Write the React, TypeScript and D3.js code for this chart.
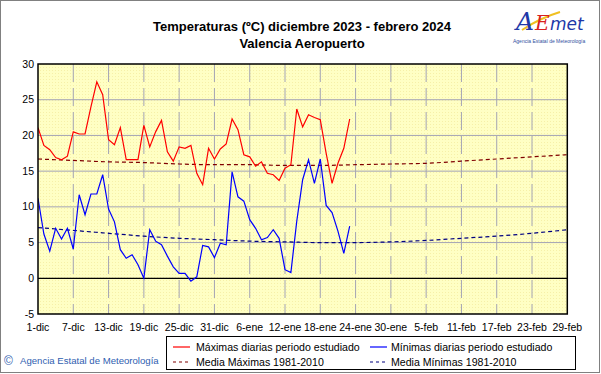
import React from 'react';
import * as d3 from 'd3';

// daily values from 1-dic-2023 (day 0) to 23-ene-2024
const maximas = [
  21.1, 18.6, 18.0, 16.9, 16.6, 17.1, 20.5, 20.2, 20.2, 24.0,
  27.5, 25.7, 19.4, 18.7, 21.1, 16.6, 16.6, 16.6, 21.4, 18.4,
  20.5, 22.1, 17.7, 16.4, 18.4, 18.2, 18.6, 14.7, 13.1, 18.2,
  16.7, 18.1, 18.8, 22.3, 20.8, 17.3, 17.0, 15.7, 16.3, 14.7,
  14.5, 13.7, 15.4, 15.9, 23.7, 21.2, 22.9, 22.5, 22.2, 17.5,
  13.3, 16.1, 18.2, 22.3,
];
const minimas = [
  11.2, 6.2, 3.8, 7.0, 5.5, 7.0, 4.1, 11.7, 8.9, 11.8,
  11.8, 14.5, 9.7, 7.9, 4.0, 2.8, 3.3, 1.9, 0.0, 6.8,
  5.2, 4.7, 3.1, 1.6, 0.7, 0.7, -0.4, 0.2, 4.6, 4.4,
  2.9, 4.9, 4.7, 14.9, 11.4, 10.8, 8.2, 7.0, 5.4, 5.7,
  6.8, 5.6, 1.2, 0.8, 8.0, 13.8, 16.6, 13.3, 16.7, 10.2,
  9.2, 6.6, 3.5, 7.3,
];

// 1981-2010 normals, sampled every 6 days
const mediaDias = [0, 6, 12, 18, 24, 30, 36, 42, 48, 54, 60, 66, 72, 78, 84, 90];
const mediaMaximas = [16.7, 16.5, 16.3, 16.2, 16.0, 15.9, 15.9, 15.8, 15.8, 15.9, 16.0, 16.1, 16.4, 16.7, 17.0, 17.3];
const mediaMinimas = [7.1, 6.7, 6.3, 5.9, 5.6, 5.4, 5.2, 5.1, 5.0, 5.0, 5.1, 5.3, 5.6, 5.9, 6.3, 6.8];

const xTickLabels = [
  '1-dic', '7-dic', '13-dic', '19-dic', '25-dic', '31-dic', '6-ene', '12-ene',
  '18-ene', '24-ene', '30-ene', '5-feb', '11-feb', '17-feb', '23-feb', '29-feb',
];
const yTicks = [-5, 0, 5, 10, 15, 20, 25, 30];
const totalDays = 90;

const W = 601;
const H = 374;
const plot = { left: 38, right: 567.3, top: 64, bottom: 314 };
const font = '"Liberation Sans", Arial, sans-serif';

export default function App() {
  const x = d3.scaleLinear().domain([0, totalDays]).range([plot.left, plot.right]);
  const y = d3.scaleLinear().domain([-5, 30]).range([plot.bottom, plot.top]);
  const tickStep = totalDays / (xTickLabels.length - 1);

  const line = d3.line<number>()
    .x((d, i) => x(i))
    .y(d => y(d));

  const mediaLine = d3.line<number>()
    .x((d, i) => x(mediaDias[i]))
    .y(d => y(d))
    .curve(d3.curveMonotoneX);

  const pw = plot.right - plot.left;
  const ph = plot.bottom - plot.top;

  return (
    <svg width={W} height={H} style={{ position: 'absolute', left: 0, top: 0, background: '#fff' }}>
      <defs>
        <pattern id="dots" width="3" height="3" patternUnits="userSpaceOnUse">
          <rect width="3" height="3" fill="#ffffc4" />
          <rect x="1" y="1" width="1" height="1" fill="#f6f0a8" />
        </pattern>
        <clipPath id="clip">
          <rect x={plot.left} y={plot.top} width={pw} height={ph} />
        </clipPath>
      </defs>

      <rect x={0.5} y={0.5} width={W - 2} height={H - 2} fill="none" stroke="#808080" />

      {/* title */}
      <text x={302} y={31} textAnchor="middle" fontFamily={font} fontWeight="bold" fontSize={13}>
        Temperaturas (ºC) diciembre 2023 - febrero 2024
      </text>
      <text x={302} y={48} textAnchor="middle" fontFamily={font} fontWeight="bold" fontSize={13}>
        Valencia Aeropuerto
      </text>

      {/* logo */}
      <g>
        <path d="M522,30 Q540,18 560,12" stroke="#f0c020" strokeWidth={2} fill="none" />
        <text x={516} y={30} fontFamily='"DejaVu Serif", serif' fontStyle="italic" fontSize={25} fill="#2038a8">A</text>
        <text x={535} y={30} fontFamily='"DejaVu Serif", serif' fontStyle="italic" fontSize={20} fill="#d82020">E</text>
        <text x={550} y={30} fontFamily='"DejaVu Sans", sans-serif' fontStyle="italic" fontSize={17} fill="#2038a8">met</text>
        <text x={513} y={43} fontFamily={font} fontSize={5} fill="#3050a0">Agencia Estatal de Meteorología</text>
      </g>

      {/* plot area */}
      <rect x={plot.left} y={plot.top} width={pw} height={ph} fill="url(#dots)" />

      {yTicks.filter(t => t !== 0 && t !== 30 && t !== -5).map(t => (
        <line key={'h' + t} x1={plot.left} x2={plot.right} y1={y(t)} y2={y(t)} stroke="#a4a4b4" strokeWidth={1} />
      ))}
      {xTickLabels.map((lab, i) => (i === 0 || i === xTickLabels.length - 1) ? null : (
        <line key={'v' + i} x1={x(i * tickStep)} x2={x(i * tickStep)} y1={plot.top} y2={plot.bottom}
          stroke="#a4a4b4" strokeWidth={1} strokeDasharray="18,6" />
      ))}

      <line x1={plot.left} x2={plot.right} y1={y(0)} y2={y(0)} stroke="#000" strokeWidth={1.3} />

      <g clipPath="url(#clip)" fill="none">
        <path d={mediaLine(mediaMaximas) || ''} stroke="#800000" strokeWidth={1.2} strokeDasharray="4,3" />
        <path d={mediaLine(mediaMinimas) || ''} stroke="#000080" strokeWidth={1.2} strokeDasharray="4,3" />
        <path d={line(maximas) || ''} stroke="#ff0000" strokeWidth={1.2} />
        <path d={line(minimas) || ''} stroke="#0000ff" strokeWidth={1.2} />
      </g>

      <rect x={plot.left} y={plot.top} width={pw} height={ph} fill="none" stroke="#000" strokeWidth={1.5} />

      {/* y axis labels */}
      {yTicks.map(t => (
        <text key={'yl' + t} x={34} y={y(t) + 3.5} textAnchor="end" fontFamily={font} fontSize={10.5} fill="#000">
          {t}
        </text>
      ))}
      {/* x axis labels */}
      {xTickLabels.map((lab, i) => (
        <text key={'xl' + i} x={x(i * tickStep)} y={331} textAnchor="middle" fontFamily={font} fontSize={10.5} fill="#000">
          {lab}
        </text>
      ))}

      {/* legend */}
      <rect x={166.5} y={336.5} width={409} height={33} fill="#fff" stroke="#000" strokeWidth={1} />
      <g fontFamily={font} fontSize={10.6} fill="#000">
        <line x1={173} x2={190} y1={347} y2={347} stroke="#ff0000" strokeWidth={1.2} />
        <text x={196} y={351}>Máximas diarias periodo estudiado</text>
        <line x1={370} x2={387} y1={347} y2={347} stroke="#0000ff" strokeWidth={1.2} />
        <text x={391} y={351}>Mínimas diarias periodo estudiado</text>
        <line x1={173} x2={190} y1={362} y2={362} stroke="#800000" strokeWidth={1.2} strokeDasharray="3,3" />
        <text x={196} y={366}>Media Máximas 1981-2010</text>
        <line x1={370} x2={387} y1={362} y2={362} stroke="#000080" strokeWidth={1.2} strokeDasharray="3,3" />
        <text x={391} y={366}>Media Mínimas 1981-2010</text>
      </g>

      {/* copyright */}
      <text x={4} y={365} fontFamily={font} fontSize={12} fill="#3060b0">©</text>
      <text x={20} y={364} fontFamily={font} fontSize={9.6} fill="#3060b0">Agencia Estatal de Meteorología</text>
    </svg>
  );
}
